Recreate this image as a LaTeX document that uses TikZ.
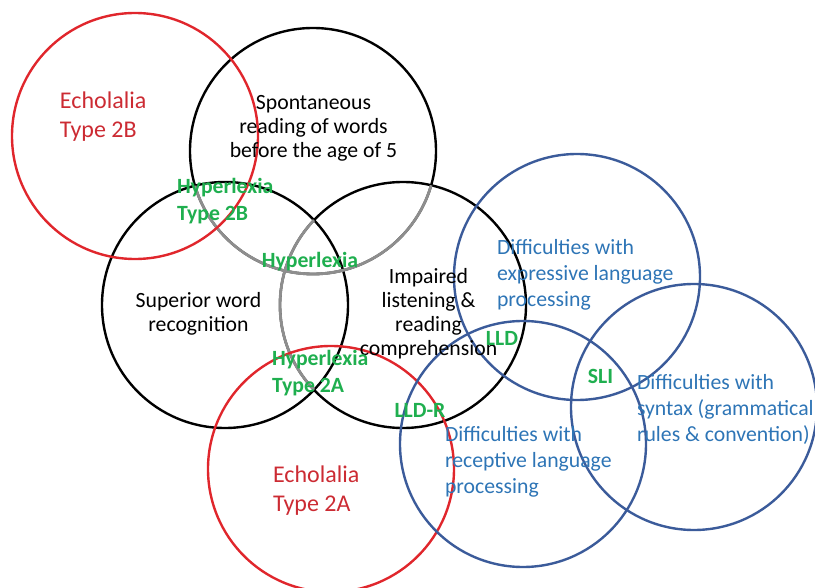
\documentclass[tikz,border=0pt]{standalone}
\usepackage{fontspec}
\setmainfont{Carlito}
\definecolor{echored}{HTML}{E0262C}
\definecolor{echotext}{HTML}{CC2B33}
\definecolor{hypgreen}{HTML}{1FAF4F}
\definecolor{langblue}{HTML}{3B5B9A}
\definecolor{langtext}{HTML}{2E75B6}
\definecolor{fadedline}{HTML}{8E8E8E}
\begin{document}
\begin{tikzpicture}[x=0.75pt,y=-0.75pt,
  ring/.style={line width=1.8pt},
  blackring/.style={ring,draw=black},
  fadering/.style={line width=2.1pt,draw=fadedline},
  redring/.style={ring,draw=echored},
  bluering/.style={ring,draw=langblue},
  txt/.style={inner sep=0pt,outer sep=0pt},
  blacktxt/.style={txt,align=center,text=black,font=\fontsize{16.3}{18}\selectfont},
  redtxt/.style={txt,align=left,text=echotext,font=\fontsize{18}{21.75}\selectfont},
  greentxt/.style={txt,align=left,text=hypgreen,font=\bfseries\fontsize{16.3}{20.25}\selectfont},
  bluetxt/.style={txt,align=left,text=langtext,font=\fontsize{16.3}{19.5}\selectfont}]
\useasboundingbox (0,0) rectangle (815,588);
\def\R{92.25pt}

% circle centres
\coordinate (cEchoB) at (135,136);
\coordinate (cRead) at (313,151);
\coordinate (cWord) at (225,305);
\coordinate (cComp) at (403,305);
\coordinate (cEchoA) at (331,469);
\coordinate (cExpr) at (577,277);
\coordinate (cSynt) at (694,407);
\coordinate (cRecp) at (523,444);

% black circles; arcs lying under a later circle are shown faded
\draw[blackring] (cRead) circle[radius=\R];
\draw[blackring] (cComp) circle[radius=\R];
\draw[blackring] (cWord) circle[radius=\R];
\begin{scope}
  \clip (cWord) circle[radius=\R];
  \draw[fadering] (cRead) circle[radius=\R];
  \draw[fadering] (cComp) circle[radius=\R];
\end{scope}
\begin{scope}
  \clip (cComp) circle[radius=\R];
  \draw[fadering] (cRead) circle[radius=\R];
\end{scope}

% red circles
\draw[redring] (cEchoB) circle[radius=\R];
\draw[redring] (cEchoA) circle[radius=\R];

% blue circles
\draw[bluering] (cExpr) circle[radius=\R];
\draw[bluering] (cSynt) circle[radius=\R];
\draw[bluering] (cRecp) circle[radius=\R];

% labels
\node[redtxt, anchor=west] (echoB) at (60,117) {Echolalia\\Type 2B};
\node[redtxt, anchor=west] (echoA) at (273,491) {Echolalia\\Type 2A};
\node[blacktxt] (read) at (313.5,128) {Spontaneous\\reading of words\\before the age of 5};
\node[blacktxt] (word) at (198.5,314) {Superior word\\recognition};
\node[blacktxt] (comp) at (428.5,313.5) {Impaired\\listening \&\\reading\\comprehension};
\node[greentxt, anchor=west] (hypB) at (177,201) {Hyperlexia\\Type 2B};
\node[greentxt] (hyp) at (310,261.5) {Hyperlexia};
\node[greentxt, anchor=west] (hypA) at (272,373) {Hyperlexia\\Type 2A};
\node[greentxt] (lld) at (502,338) {LLD};
\node[greentxt] (lldr) at (420,410) {LLD-R};
\node[greentxt] (sli) at (600.5,376) {SLI};
\node[bluetxt, anchor=west] (expr) at (497,275) {Difficulties with\\expressive language\\processing};
\node[bluetxt, anchor=west] (recp) at (445,462) {Difficulties with\\receptive language\\processing};
\node[bluetxt, anchor=west] (synt) at (637,409.5) {Difficulties with\\syntax (grammatical\\rules \& convention)};
\end{tikzpicture}
\end{document}
